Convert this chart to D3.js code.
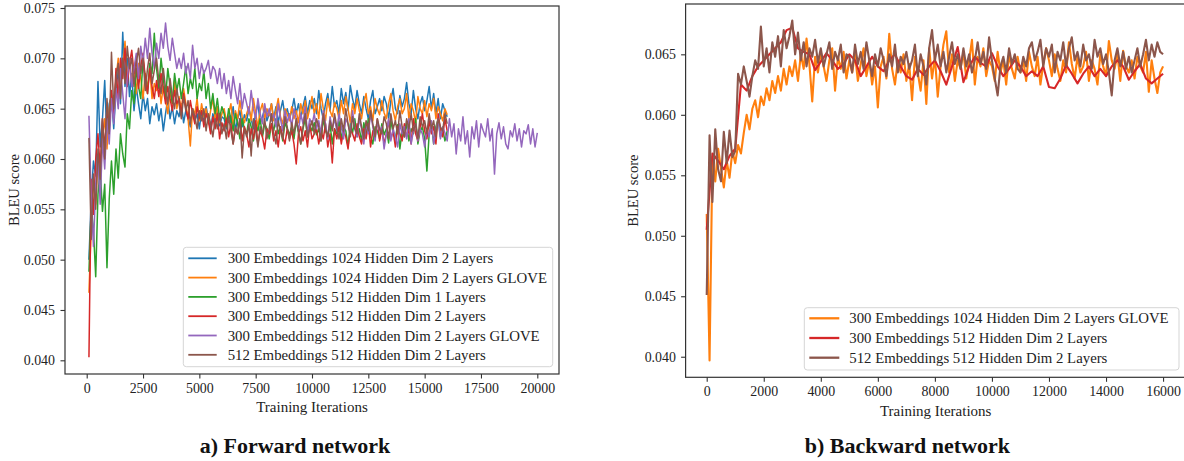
<!DOCTYPE html>
<html><head><meta charset="utf-8">
<script src="https://cdn.jsdelivr.net/npm/d3@7"></script>
<style>body{margin:0;background:#fff}svg{display:block}</style>
</head><body>
<svg id="c" width="1184" height="461"></svg>
<script>
// ---------------- DATA (BLEU in units of 1e-4) ----------------
// Forward network: evaluated every 100 iterations, starting at 100
const fwdStep = 100;
const fwdLabels = [
  "300 Embeddings 1024 Hidden Dim 2 Layers",
  "300 Embeddings 1024 Hidden Dim 2 Layers GLOVE",
  "300 Embeddings 512 Hidden Dim 1 Layers",
  "300 Embeddings 512 Hidden Dim 2 Layers",
  "300 Embeddings 512 Hidden Dim 2 Layers GLOVE",
  "512 Embeddings 512 Hidden Dim 2 Layers"
];
const fwdColors = ["#1f77b4","#ff7f0e","#2ca02c","#d62728","#9467bd","#8c564b"];
const fwd300e1024h2l = [500,560,598,583,677,612,640,678,618,655,
662,630,668,690,655,726,672,700,662,685,
648,672,655,640,665,648,660,635,652,644,
655,638,650,628,645,660,640,652,635,648,
642,655,636,648,640,632,650,638,645,630,
648,636,652,640,628,645,638,650,633,642,
640,630,645,636,652,628,640,648,632,644,
638,650,640,630,646,655,636,642,650,638,
645,655,640,652,636,648,658,642,650,640,
648,660,645,655,640,652,662,645,658,650,
660,645,668,650,640,655,665,648,672,652,
658,645,670,655,666,648,673,660,650,668,
655,645,662,650,640,658,668,645,652,660,
648,662,655,640,658,670,650,645,663,652,
660,676,655,645,668,650,640,655,662,648,
658,672,650,665,645,660,640,655,648,642];
const fwd300e1024h2lGlove = [467,530,580,555,600,575,620,640,610,650,
665,640,680,700,670,690,717,680,700,675,
690,665,695,680,660,685,670,690,660,675,
668,680,655,672,660,645,668,655,678,650,
662,648,670,655,640,613,650,645,660,638,
655,642,650,635,648,660,640,652,636,645,
650,638,645,655,632,648,640,658,642,636,
645,652,638,660,645,632,648,655,640,650,
643,655,638,648,660,642,635,650,645,638,
652,640,648,636,655,645,658,640,650,662,
645,655,640,665,650,638,660,648,642,656,
650,640,658,645,662,650,636,655,645,660,
648,640,656,665,645,652,638,660,650,644,
658,646,640,655,665,648,638,652,660,645,
650,665,640,655,648,636,662,650,645,658,
642,655,648,660,640,652,645,638,650,644];
const fwd300e512h1l = [488,552,530,483,565,590,548,575,492,560,
598,565,610,581,625,605,592,645,630,668,
655,690,672,660,700,680,665,695,685,725,
690,670,700,680,660,690,672,655,685,668,
680,660,675,692,665,680,670,690,660,675,
668,688,660,675,650,665,645,660,640,652,
645,632,650,640,628,645,635,620,640,630,
625,640,632,618,635,628,640,622,635,630,
620,635,628,640,625,632,618,636,630,624,
632,620,638,626,615,630,640,622,634,628,
636,624,630,618,640,628,622,635,615,630,
625,638,620,632,628,612,635,626,640,622,
630,618,636,625,640,622,615,632,628,620,
635,624,630,616,638,626,620,634,610,628,
622,636,618,630,625,640,615,628,632,620,
588,625,635,615,632,640,622,630,618,628];
const fwd300e512h2l = [403,580,545,600,625,590,640,610,650,630,
668,645,690,660,700,680,710,672,695,708,
685,700,670,692,705,680,665,690,672,660,
678,662,685,670,655,672,660,648,668,655,
660,645,665,650,640,658,645,635,652,640,
648,632,645,638,625,642,630,645,620,636,
628,640,622,635,615,630,625,640,618,632,
625,612,630,620,638,615,628,622,610,630,
625,635,618,628,612,632,622,615,630,620,
628,615,595,625,632,618,628,612,635,620,
625,630,615,628,620,635,612,625,596,630,
620,632,615,628,622,610,630,625,618,635,
622,615,630,620,635,612,628,622,640,618,
630,615,625,638,620,628,612,632,625,618,
635,622,630,615,640,625,618,632,645,628,
620,638,625,632,615,645,630,622,640,628];
const fwd300e512h2lGlove = [643,560,513,575,600,555,620,590,640,615,
660,635,670,650,690,665,640,680,700,672,
690,705,680,712,695,720,700,730,705,690,
715,700,725,710,735,712,698,720,705,690,
700,690,705,685,695,680,713,690,700,680,
695,685,690,698,680,692,688,675,690,670,
685,665,678,660,682,668,655,675,650,665,
655,645,668,650,640,660,645,635,655,642,
650,638,645,632,655,640,628,648,636,645,
632,650,640,628,645,635,652,625,640,634,
645,630,638,625,648,635,620,642,630,640,
628,645,632,620,640,635,625,648,630,622,
640,630,615,635,625,645,632,618,638,628,
632,610,625,640,618,630,622,612,635,625,
632,620,640,615,628,635,618,630,625,612,
630,622,638,615,628,640,620,632,626,618,
640,622,635,605,630,618,642,615,628,602,
632,620,638,612,635,628,622,640,618,630,
585,625,636,620,632,615,610,628,622,635,
618,630,612,628,625,634,615,630,612,626];
const fwd512e512h2l = [621,520,585,550,610,580,640,600,660,625,
706,650,680,695,660,700,675,712,690,700,
672,695,710,685,700,668,690,705,675,688,
700,678,665,690,670,655,680,662,650,670,
655,640,662,648,658,635,650,642,630,648,
638,650,628,645,635,622,640,630,645,625,
635,620,642,628,615,632,625,640,601,630,
622,635,603,640,628,612,632,625,640,620,
630,645,625,615,638,628,620,642,632,618,
636,625,640,628,615,632,645,622,630,638,
625,640,632,618,645,630,622,638,628,645,
632,620,640,628,650,635,622,642,630,625,
645,632,620,638,628,648,635,622,640,630,
625,642,635,620,645,630,638,625,648,632,
622,640,630,645,628,635,620,642,632,638,
625,645,630,638,622,640,632,628,645,635];

// Backward network: evaluated every 100 iterations from 0 (red: every 200)
const bwdLabels = [
  "300 Embeddings 1024 Hidden Dim 2 Layers GLOVE",
  "300 Embeddings 512 Hidden Dim 2 Layers",
  "512 Embeddings 512 Hidden Dim 2 Layers"
];
const bwdColors = ["#ff7f0e","#d62728","#8c564b"];
const bwdSteps = [100, 200, 100];
const bwd300e1024h2lGlove = [518,397,565,545,572,556,540,562,548,570,
560,575,568,585,600,588,605,612,598,615,
608,622,612,628,618,632,620,638,625,640,
632,645,628,650,638,663,642,611,648,635,
652,640,628,645,655,620,648,638,652,630,
645,635,650,628,642,655,632,645,625,640,
606,640,648,630,667,638,625,645,635,650,
628,642,612,648,635,620,645,609,655,630,
648,615,640,658,669,635,650,628,645,638,
652,630,645,662,625,648,640,655,632,645,
640,628,652,635,645,625,650,638,630,648,
635,645,628,652,640,632,648,625,642,655,
645,632,650,638,628,645,635,660,642,630,
648,635,640,652,628,645,638,625,650,640,
632,661,645,638,650,628,653,640,635,645,
630,648,640,635,652,619,645,630,618,635,640];
const bwd300e512h2l = [505,568,562,555,566,572,625,620,632,640,
645,650,655,660,670,672,655,652,650,637,
644,651,645,638,642,650,645,632,640,648,
640,636,645,650,640,632,629,638,633,640,
645,636,625,640,656,627,640,648,643,640,
651,640,632,638,645,640,632,636,632,640,
623,622,630,641,634,626,634,640,632,638,
632,640,645,640,629,636,642,630,626,630,634];
const bwd512e512h2l = [451,583,528,588,555,545,586,560,587,565,
570,634,625,640,628,615,632,645,638,673,
640,655,635,660,648,665,640,670,655,665,
678,650,668,645,660,640,655,648,662,643,
655,640,650,660,638,652,645,658,635,650,
648,635,658,642,652,638,660,645,632,650,
640,655,645,632,650,640,658,635,648,642,
652,638,645,658,632,650,640,625,655,670,
645,658,640,652,635,648,660,642,650,638,
655,640,650,635,645,660,642,652,638,664,
645,630,616,640,648,635,655,642,650,638,
635,648,640,655,660,645,652,662,640,655,
648,658,635,652,645,660,640,655,664,645,
652,640,658,645,650,638,662,648,655,642,
650,635,616,645,655,640,652,638,648,635,
645,655,640,650,662,645,658,648,660,652,650];

const fwdXTicks = [0,2500,5000,7500,10000,12500,15000,17500,20000];
const fwdYTicks = [0.040,0.045,0.050,0.055,0.060,0.065,0.070,0.075];
const bwdXTicks = [0,2000,4000,6000,8000,10000,12000,14000,16000];
const bwdYTicks = [0.040,0.045,0.050,0.055,0.060,0.065];

// ---------------- DRAWING ----------------
const FONT = '"Liberation Serif","Times New Roman",serif';
const svg = d3.select('#c');
const defs = svg.append('defs');

function toPoints(vals, start, step) {
  return vals.map((v, i) => [start + i * step, v / 10000]);
}

function panel(cfg) {
  const g = svg.append('g');
  const x = d3.scaleLinear().domain(cfg.xDomain).range([cfg.left, cfg.right]);
  const y = d3.scaleLinear().domain(cfg.yDomain).range([cfg.bottom, cfg.top]);
  defs.append('clipPath').attr('id', cfg.id).append('rect')
    .attr('x', cfg.left).attr('y', cfg.top)
    .attr('width', cfg.right - cfg.left).attr('height', cfg.bottom - cfg.top);
  const line = d3.line().x(d => x(d[0])).y(d => y(d[1]));
  const lg = g.append('g').attr('clip-path', `url(#${cfg.id})`);
  cfg.series.forEach(s => {
    lg.append('path').datum(toPoints(s.values, s.start, s.step))
      .attr('d', line).attr('fill', 'none').attr('stroke', s.color)
      .attr('stroke-width', s.lw).attr('stroke-linejoin', 'round');
  });
  // frame
  g.append('rect').attr('x', cfg.left).attr('y', cfg.top)
    .attr('width', cfg.right - cfg.left).attr('height', cfg.bottom - cfg.top)
    .attr('fill', 'none').attr('stroke', '#333').attr('stroke-width', 1.2);
  // axes
  const xa = g.append('g').attr('transform', `translate(0,${cfg.bottom})`)
    .call(d3.axisBottom(x).tickValues(cfg.xTicks).tickFormat(d3.format('d'))
      .tickSize(4.5).tickPadding(4.6));
  const ya = g.append('g').attr('transform', `translate(${cfg.left},0)`)
    .call(d3.axisLeft(y).tickValues(cfg.yTicks).tickFormat(d3.format('.3f'))
      .tickSize(4.5).tickPadding(cfg.yPad));
  [xa, ya].forEach(a => {
    a.select('.domain').remove();
    a.selectAll('line').attr('stroke', '#333').attr('stroke-width', 1.1);
    a.selectAll('text').attr('font-family', FONT).attr('font-size', 13.9).attr('fill', '#222');
  });
  // axis labels
  g.append('text').attr('x', (cfg.xLabelX)).attr('y', cfg.xLabelY)
    .attr('text-anchor', 'middle').attr('font-family', FONT).attr('font-size', 15)
    .attr('fill', '#222').text('Training Iterations');
  g.append('text').attr('transform', `translate(${cfg.yLabelX},${(cfg.top + cfg.bottom) / 2}) rotate(-90)`)
    .attr('text-anchor', 'middle').attr('font-family', FONT).attr('font-size', 14.5)
    .attr('fill', '#222').text('BLEU score');
  // legend
  const L = cfg.legend;
  const lgd = g.append('g');
  lgd.append('rect').attr('x', L.x0).attr('y', L.y0)
    .attr('width', L.x1 - L.x0).attr('height', L.y1 - L.y0).attr('rx', 3)
    .attr('fill', '#fff').attr('fill-opacity', 0.85).attr('stroke', '#d5d5d5').attr('stroke-width', 1);
  cfg.series.forEach((s, i) => {
    const cy = L.row0 + i * L.pitch;
    lgd.append('line').attr('x1', L.h0).attr('x2', L.h1).attr('y1', cy).attr('y2', cy)
      .attr('stroke', s.color).attr('stroke-width', L.lw);
    lgd.append('text').attr('x', L.tx).attr('y', cy).attr('dy', '0.34em')
      .attr('font-family', FONT).attr('font-size', L.fs).attr('fill', '#222').text(s.label);
  });
  // title
  svg.append('text').attr('x', cfg.titleX).attr('y', 453).attr('text-anchor', 'middle')
    .attr('font-family', FONT).attr('font-weight', 'bold').attr('font-size', 22)
    .attr('fill', '#111').text(cfg.title);
}

const fwdValues = [fwd300e1024h2l, fwd300e1024h2lGlove, fwd300e512h1l, fwd300e512h2l, fwd300e512h2lGlove, fwd512e512h2l];
panel({
  id: 'clipF', left: 65, right: 559, top: 6, bottom: 374,
  xDomain: [-963, 20963], yDomain: [0.03864, 0.07520],
  xTicks: fwdXTicks, yTicks: fwdYTicks, yPad: 5.5,
  xLabelX: 312, xLabelY: 411.5, yLabelX: 18.5,
  series: fwdValues.map((v, i) => ({ values: v, start: fwdStep, step: fwdStep, color: fwdColors[i], label: fwdLabels[i], lw: 1.5 })),
  legend: { x0: 183.3, x1: 552.7, y0: 247.3, y1: 366.7, row0: 258.3, pitch: 19.3, h0: 188.3, h1: 216.7, tx: 227.7, fs: 14.8, lw: 1.8 },
  title: 'a) Forward network', titleX: 295
});

const bwdValues = [bwd300e1024h2lGlove, bwd300e512h2l, bwd512e512h2l];
panel({
  id: 'clipB', left: 685.6, right: 1185.6, top: 4, bottom: 377.3,
  xDomain: [-740, 16790], yDomain: [0.03830, 0.06916],
  xTicks: bwdXTicks, yTicks: bwdYTicks, yPad: 5.2,
  xLabelX: 935.7, xLabelY: 415.5, yLabelX: 637.5,
  series: bwdValues.map((v, i) => ({ values: v, start: 0, step: bwdSteps[i], color: bwdColors[i], label: bwdLabels[i], lw: 2.1 })),
  legend: { x0: 804.3, x1: 1179, y0: 307.7, y1: 370, row0: 318.3, pitch: 19.7, h0: 809.3, h1: 839.3, tx: 849.3, fs: 14.8, lw: 2.3 },
  title: 'b) Backward network', titleX: 907.4
});
</script>
</body></html>
